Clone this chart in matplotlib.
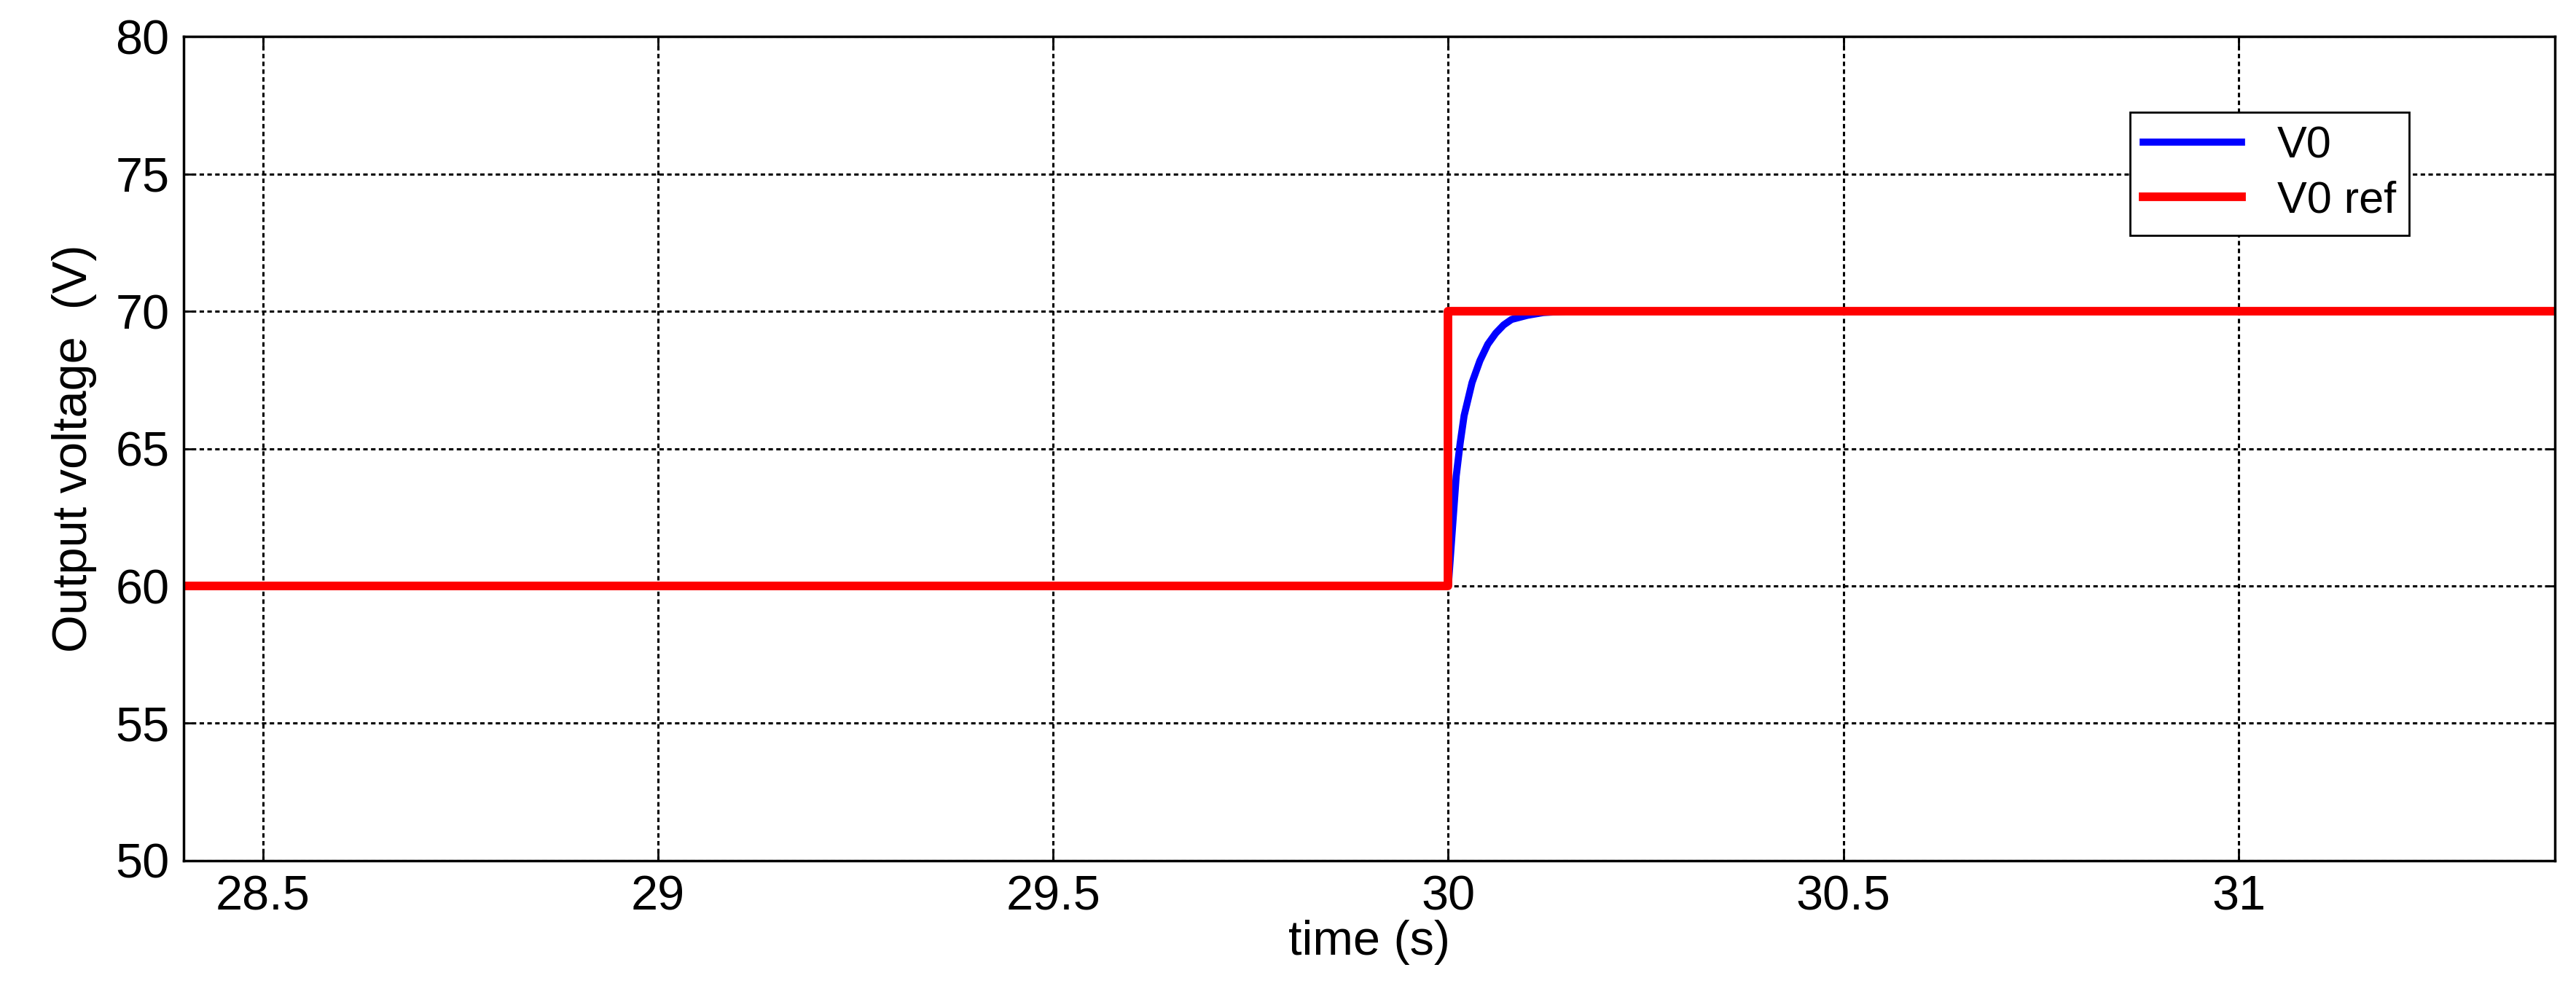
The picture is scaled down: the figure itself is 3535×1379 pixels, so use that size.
import matplotlib
matplotlib.use("Agg")
import matplotlib.pyplot as plt

t_ref = [28.4, 30.0, 30.0, 31.4]
v_ref = [60, 60, 70, 70]
t_v0 = [28.4, 30.0, 30.005, 30.01, 30.015, 30.02, 30.03, 30.04, 30.05, 30.06, 30.07, 30.08, 30.1, 30.12, 30.15, 31.4]
v_v0 = [60, 60, 62, 64, 65.2, 66.2, 67.4, 68.2, 68.8, 69.2, 69.5, 69.7, 69.85, 69.95, 70, 70]
xticks = [28.5, 29, 29.5, 30, 30.5, 31]
yticks = [50, 55, 60, 65, 70, 75, 80]

plt.rcParams['font.family'] = ['Liberation Sans', 'DejaVu Sans']
fig = plt.figure(figsize=(35.35, 13.79), dpi=100)
ax = fig.add_axes([0.0713, 0.1436, 0.9205, 0.8201])
ax.plot(t_v0, v_v0, color='#0000ff', lw=7, label='V0')
ax.plot(t_ref, v_ref, color='#ff0000', lw=8.5, label='V0 ref')
ax.set_xlim(28.4, 31.4)
ax.set_ylim(50, 80)
ax.set_xticks(xticks)
ax.set_xticklabels([f"{x:g}" for x in xticks])
ax.set_yticks(yticks)
ax.grid(True, color='black', linestyle=(0, (2, 1.5)), linewidth=2.2)
ax.tick_params(labelsize=48, length=10, width=2, direction='in', top=True, right=True, pad=14)
for s in ax.spines.values():
    s.set_linewidth(2.5)
ax.set_xlabel('time (s)', fontsize=48, labelpad=0)
ax.set_ylabel('Output voltage  (V)', fontsize=48, labelpad=18)
leg = ax.legend(loc='upper right', bbox_to_anchor=(0.948, 0.935), fontsize=44, fancybox=False,
                edgecolor='black', framealpha=1, handlelength=2.2, borderpad=0.3, labelspacing=0.3)
leg.get_frame().set_linewidth(2)
fig.savefig('out.png', dpi=100, facecolor='white')
